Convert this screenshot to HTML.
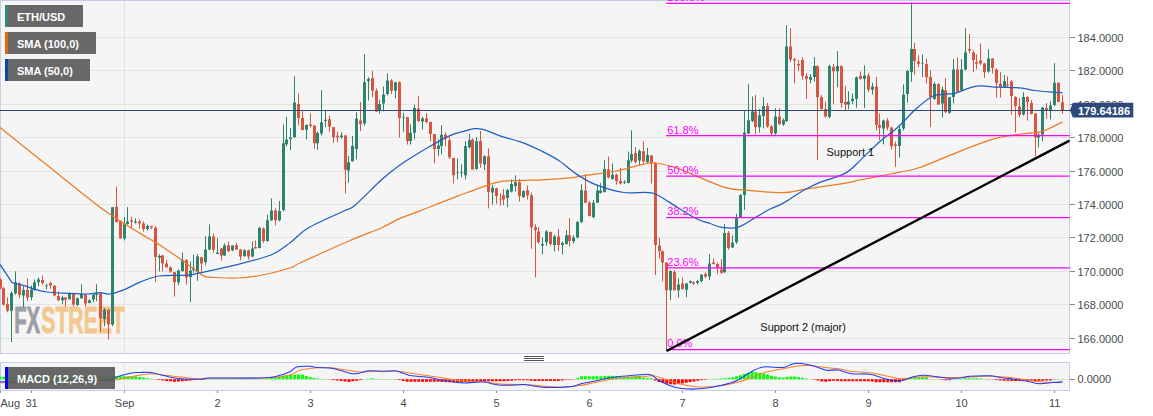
<!DOCTYPE html>
<html><head><meta charset="utf-8"><title>ETH/USD chart</title>
<style>html,body{margin:0;padding:0;background:#fff;}body{width:1153px;height:416px;overflow:hidden;}svg{display:block;}</style></head>
<body>
<svg width="1153" height="416" viewBox="0 0 1153 416" font-family="Liberation Sans, Arial, sans-serif">
<rect x="0" y="0" width="1153" height="416" fill="#fff"/>
<rect x="0.5" y="0.5" width="1069" height="353" fill="#f5f5f5" stroke="#c6cde6" stroke-width="1"/>
<rect x="0.5" y="362.5" width="1069" height="28" fill="#f5f5f5" stroke="#c6cde6" stroke-width="1"/>
<path d="M1 37.5H1069M1 70.5H1069M1 104.5H1069M1 137.5H1069M1 171.5H1069M1 204.5H1069M1 237.5H1069M1 271.5H1069M1 304.5H1069M1 338.5H1069M124.5 1V353M124.5 363V390M1 379.5H1069" stroke="#e3e3e3" stroke-width="1" fill="none" shape-rendering="crispEdges"/>
<g font-weight="bold" font-size="36" stroke-width="0.9" stroke-linejoin="round"><text x="14.2" y="333" textLength="26" lengthAdjust="spacingAndGlyphs" fill="#9d9ea6" stroke="#9d9ea6">FX</text><text x="41.3" y="333" textLength="83.5" lengthAdjust="spacingAndGlyphs" fill="#f3c78e" stroke="#f3c78e">STREET</text></g>
<path d="M11.5 291.4V342.0M15.5 271.4V294.5M23.5 286.2V307.3M31.5 285.4V300.3M34.5 279.5V290.9M38.5 277.3V286.2M46.5 283.6V289.3M62.5 295.6V304.2M69.5 292.5V299.5M77.5 297.6V305.8M81.5 284.2V298.7M89.5 299.2V303.4M93.5 294.0V302.3M96.5 284.2V301.1M104.5 308.1V326.1M112.5 207.2V326.1M124.5 217.1V240.4M127.5 207.2V224.6M135.5 218.4V223.5M147.5 224.6V230.6M159.5 254.1V271.5M178.5 269.6V285.4M182.5 252.6V271.9M190.5 261.6V302.0M193.5 255.0V272.8M197.5 254.1V280.9M205.5 236.3V265.3M209.5 224.4V250.3M217.5 238.1V254.1M224.5 243.4V255.9M232.5 245.3V251.3M244.5 249.4V256.9M252.5 241.5V257.3M259.5 226.9V248.4M267.5 214.7V241.5M271.5 198.4V220.9M279.5 201.0V221.3M283.5 124.5V211.5M286.5 117.0V146.1M290.5 127.9V150.0M294.5 76.1V137.6M306.5 124.5V139.5M317.5 131.6V150.0M321.5 90.2V135.4M325.5 110.4V127.3M341.5 132.4V138.6M348.5 156.0V182.8M352.5 135.8V161.6M356.5 112.3V159.4M364.5 54.1V125.4M368.5 77.3V100.5M379.5 99.8V113.6M383.5 86.6V111.4M387.5 73.5V95.4M395.5 81.8V98.3M403.5 112.8V131.9M410.5 124.4V144.6M414.5 104.7V139.4M422.5 116.5V129.6M438.5 139.4V155.9M441.5 125.3V154.4M457.5 158.4V179.4M461.5 164.4V177.5M465.5 140.9V179.4M469.5 134.1V148.8M476.5 137.1V169.6M484.5 155.3V170.0M492.5 185.0V204.7M507.5 189.1V207.1M511.5 179.4V192.5M515.5 175.3V191.6M523.5 190.3V197.8M542.5 237.5V254.4M546.5 230.0V245.9M554.5 234.7V251.6M562.5 241.6V254.4M566.5 230.0V244.6M573.5 235.3V243.5M577.5 221.0V238.4M581.5 184.1V222.9M593.5 200.0V218.4M597.5 184.6V202.8M600.5 183.1V193.4M604.5 160.3V192.5M612.5 163.4V179.8M624.5 180.3V184.1M628.5 151.6V183.5M631.5 130.3V162.5M639.5 149.4V165.3M647.5 147.9V163.4M670.5 270.0V300.0M678.5 278.4V297.8M686.5 282.8V297.2M690.5 280.3V283.5M697.5 279.8V284.6M701.5 274.1V282.2M709.5 254.1V280.3M724.5 224.1V272.8M732.5 235.3V247.9M736.5 213.8V243.8M740.5 194.1V217.5M744.5 110.9V210.0M748.5 84.1V134.4M752.5 96.5V122.2M759.5 109.1V132.5M763.5 97.3V128.4M775.5 108.1V134.8M783.5 118.4V125.9M786.5 25.3V122.2M810.5 74.1V83.4M814.5 57.2V81.6M829.5 64.7V118.4M837.5 51.0V87.2M848.5 91.3V109.1M852.5 93.5V104.0M856.5 76.5V107.8M864.5 65.3V108.1M872.5 82.8V94.6M883.5 119.6V144.4M899.5 124.7V157.5M903.5 84.4V130.3M907.5 69.8V102.8M911.5 2.3V81.9M922.5 54.4V76.9M934.5 82.3V99.7M942.5 86.6V117.5M949.5 96.9V113.8M953.5 59.1V103.4M961.5 59.1V91.6M965.5 28.1V70.3M988.5 49.1V72.8M1004.5 75.0V88.1M1023.5 92.2V115.6M1038.5 132.5V147.5M1042.5 106.9V141.2M1050.5 101.2V119.4M1054.5 63.1V106.2" stroke="#2c846e" stroke-width="1" fill="none"/>
<path d="M0.5 278.4V288.9M3.5 287.0V305.8M7.5 297.6V312.3M19.5 282.3V298.2M27.5 278.4V301.1M42.5 275.3V284.7M50.5 281.5V288.9M54.5 285.1V296.4M58.5 291.4V301.1M65.5 297.2V306.5M73.5 292.9V306.5M85.5 294.0V306.5M100.5 292.5V332.0M108.5 308.9V339.5M116.5 186.6V222.2M120.5 220.3V238.5M131.5 216.6V227.8M139.5 219.4V228.4M143.5 221.6V231.6M151.5 225.9V229.1M155.5 225.9V282.2M162.5 255.0V271.5M166.5 260.3V267.8M170.5 266.6V272.8M174.5 271.9V296.6M186.5 259.3V284.6M201.5 256.9V271.5M213.5 233.4V252.8M221.5 248.1V260.6M228.5 241.5V252.2M236.5 242.8V249.8M240.5 249.0V260.3M248.5 249.4V259.7M255.5 240.4V248.4M263.5 227.3V242.8M275.5 208.5V225.4M298.5 93.6V125.4M302.5 110.4V130.5M310.5 113.3V127.3M314.5 125.1V148.9M329.5 115.5V131.6M333.5 126.9V142.9M337.5 131.6V142.3M345.5 134.8V193.5M360.5 102.0V131.1M372.5 70.9V97.3M376.5 88.5V111.8M391.5 79.1V94.1M399.5 81.4V137.6M407.5 116.9V144.6M418.5 96.3V122.1M426.5 113.1V123.4M430.5 121.6V141.3M434.5 133.8V163.4M445.5 132.3V146.5M449.5 136.6V159.1M453.5 157.8V183.5M472.5 138.4V169.6M480.5 130.9V167.8M488.5 148.4V208.4M496.5 187.8V203.8M500.5 193.4V205.6M503.5 189.1V205.3M519.5 179.0V201.5M527.5 185.4V199.6M531.5 192.5V248.8M535.5 224.4V277.3M538.5 227.2V243.5M550.5 231.5V245.9M558.5 229.1V251.0M569.5 218.2V246.5M585.5 174.1V202.8M589.5 200.9V216.5M608.5 156.5V178.4M616.5 173.8V184.6M620.5 167.8V184.6M635.5 147.1V163.4M643.5 141.5V163.4M651.5 155.0V183.5M655.5 162.5V275.0M659.5 237.8V258.8M662.5 250.3V281.3M666.5 262.1V351.0M674.5 270.0V290.6M682.5 277.5V289.7M693.5 281.3V285.0M705.5 272.3V278.4M713.5 258.4V264.4M717.5 262.5V274.1M721.5 259.1V273.8M728.5 231.0V249.8M755.5 95.0V134.4M767.5 102.9V127.8M771.5 125.0V136.3M779.5 108.1V125.0M790.5 28.1V61.9M794.5 58.1V83.4M798.5 60.0V71.3M802.5 57.2V79.7M806.5 73.1V98.8M817.5 65.3V160.3M821.5 95.0V109.6M825.5 101.6V117.5M833.5 64.1V104.4M841.5 65.3V107.8M845.5 85.9V110.0M860.5 71.3V79.7M868.5 73.1V92.2M876.5 76.9V130.3M879.5 113.4V140.3M887.5 117.8V130.3M891.5 126.6V149.6M895.5 141.6V166.9M914.5 42.8V75.0M918.5 55.3V67.1M926.5 58.5V83.4M930.5 70.3V126.9M938.5 83.4V104.8M945.5 78.1V113.4M957.5 57.2V92.2M969.5 34.1V53.4M973.5 50.3V72.2M976.5 54.4V69.4M980.5 43.5V65.3M984.5 62.8V78.0M992.5 58.1V73.5M996.5 68.4V97.5M1000.5 72.2V97.5M1007.5 76.2V88.1M1011.5 80.0V114.8M1015.5 96.2V132.5M1019.5 98.1V117.5M1027.5 96.2V120.6M1031.5 100.2V114.4M1035.5 113.1V156.0M1046.5 103.1V118.8M1058.5 82.2V102.2M1062.5 95.0V113.8" stroke="#d8553f" stroke-width="1" fill="none"/>
<path d="M10 292.9h3V310.8h-3zM14 282.3h3V293.2h-3zM22 290.1h3V295.6h-3zM30 289.8h3V297.2h-3zM33 282.3h3V289.8h-3zM37 279.5h3V282.3h-3zM45 285.4h3V286.2h-3zM61 297.6h3V300.3h-3zM68 293.2h3V299.2h-3zM76 298.2h3V305.0h-3zM80 294.0h3V298.2h-3zM88 300.3h3V302.9h-3zM92 294.8h3V299.5h-3zM95 293.2h3V295.1h-3zM103 309.7h3V319.0h-3zM111 207.2h3V324.5h-3zM123 224.1h3V238.5h-3zM126 221.6h3V224.1h-3zM134 221.6h3V222.8h-3zM146 225.9h3V229.1h-3zM158 255.9h3V257.8h-3zM177 270.6h3V282.2h-3zM181 260.3h3V270.9h-3zM189 270.6h3V277.1h-3zM192 268.5h3V270.0h-3zM196 256.5h3V271.9h-3zM204 249.4h3V262.1h-3zM208 236.3h3V249.4h-3zM216 252.8h3V254.1h-3zM223 245.6h3V255.4h-3zM231 245.6h3V250.3h-3zM243 250.3h3V255.9h-3zM251 248.4h3V256.5h-3zM258 227.8h3V247.9h-3zM266 220.3h3V240.9h-3zM270 210.4h3V220.3h-3zM278 210.9h3V220.3h-3zM282 143.3h3V210.0h-3zM285 139.5h3V144.2h-3zM289 137.6h3V139.1h-3zM293 102.6h3V137.3h-3zM305 124.9h3V129.8h-3zM316 132.9h3V143.3h-3zM320 122.3h3V133.5h-3zM324 119.8h3V121.1h-3zM340 135.4h3V137.3h-3zM347 162.2h3V170.6h-3zM351 146.1h3V161.3h-3zM355 118.5h3V148.9h-3zM363 82.3h3V123.6h-3zM367 79.1h3V81.0h-3zM378 103.9h3V111.0h-3zM382 94.5h3V103.5h-3zM386 80.4h3V94.1h-3zM394 82.3h3V90.8h-3zM402 117.6h3V118.2h-3zM409 132.8h3V140.9h-3zM413 107.9h3V132.8h-3zM421 118.4h3V121.6h-3zM437 145.4h3V149.1h-3zM440 134.7h3V145.9h-3zM456 172.2h3V172.8h-3zM460 172.6h3V173.2h-3zM464 145.9h3V175.3h-3zM468 140.3h3V147.3h-3zM475 141.3h3V169.1h-3zM483 156.3h3V164.4h-3zM491 187.8h3V192.5h-3zM506 190.1h3V198.1h-3zM510 184.1h3V191.6h-3zM514 182.2h3V185.9h-3zM522 191.0h3V197.2h-3zM541 244.1h3V245.4h-3zM545 231.5h3V242.2h-3zM553 236.6h3V245.0h-3zM561 243.1h3V245.0h-3zM565 235.3h3V244.1h-3zM572 237.5h3V241.3h-3zM576 222.1h3V237.5h-3zM580 190.3h3V222.1h-3zM592 202.8h3V216.9h-3zM596 190.6h3V202.8h-3zM599 190.6h3V192.9h-3zM603 169.1h3V192.1h-3zM611 174.7h3V179.0h-3zM623 181.8h3V182.8h-3zM627 160.3h3V183.1h-3zM630 154.1h3V160.6h-3zM638 150.9h3V160.6h-3zM646 155.0h3V162.1h-3zM669 270.9h3V290.3h-3zM677 284.6h3V290.3h-3zM685 283.5h3V289.7h-3zM689 281.3h3V282.8h-3zM696 280.9h3V282.8h-3zM700 274.7h3V281.3h-3zM708 263.4h3V276.6h-3zM723 232.9h3V272.3h-3zM731 242.8h3V247.5h-3zM735 217.5h3V242.3h-3zM739 195.0h3V217.1h-3zM743 132.5h3V195.0h-3zM747 120.3h3V133.4h-3zM751 111.5h3V120.9h-3zM758 115.3h3V127.3h-3zM762 106.3h3V116.0h-3zM774 116.6h3V133.4h-3zM782 120.3h3V124.6h-3zM785 46.5h3V120.9h-3zM809 76.9h3V79.7h-3zM813 66.0h3V76.9h-3zM828 66.0h3V117.1h-3zM836 66.0h3V71.3h-3zM847 101.6h3V104.4h-3zM851 98.8h3V101.0h-3zM855 77.3h3V98.8h-3zM863 75.4h3V79.1h-3zM871 86.6h3V89.8h-3zM882 120.4h3V128.4h-3zM898 129.0h3V145.9h-3zM902 94.7h3V128.4h-3zM906 70.9h3V94.1h-3zM910 49.1h3V72.2h-3zM921 63.4h3V64.1h-3zM933 84.1h3V99.1h-3zM941 89.4h3V103.4h-3zM948 97.3h3V112.8h-3zM952 69.4h3V96.9h-3zM960 69.4h3V90.3h-3zM964 52.5h3V69.4h-3zM987 58.5h3V71.6h-3zM1003 81.2h3V87.2h-3zM1022 96.9h3V114.4h-3zM1037 134.8h3V137.5h-3zM1041 107.5h3V134.4h-3zM1049 105.6h3V110.6h-3zM1053 82.8h3V105.0h-3z" fill="#2c846e"/>
<path d="M-1 279.5h3V288.6h-3zM2 288.2h3V304.5h-3zM6 303.9h3V310.8h-3zM18 283.6h3V295.1h-3zM26 290.1h3V297.6h-3zM41 280.0h3V283.1h-3zM49 283.1h3V285.4h-3zM53 285.8h3V295.6h-3zM57 296.1h3V300.3h-3zM64 297.6h3V299.8h-3zM72 293.2h3V304.5h-3zM84 294.5h3V303.4h-3zM99 293.2h3V318.2h-3zM107 309.7h3V324.5h-3zM115 206.8h3V222.2h-3zM119 221.3h3V238.5h-3zM130 220.3h3V221.6h-3zM138 221.6h3V223.5h-3zM142 223.5h3V229.1h-3zM150 225.9h3V227.3h-3zM154 227.8h3V256.9h-3zM161 255.6h3V263.4h-3zM165 263.4h3V267.2h-3zM169 267.2h3V271.5h-3zM173 272.3h3V282.2h-3zM185 260.1h3V277.5h-3zM200 257.3h3V263.4h-3zM212 236.6h3V249.8h-3zM220 248.4h3V255.4h-3zM227 245.3h3V251.3h-3zM235 245.3h3V249.4h-3zM239 249.4h3V256.5h-3zM247 250.3h3V256.5h-3zM254 247.1h3V248.4h-3zM262 228.4h3V240.9h-3zM274 210.4h3V220.3h-3zM297 103.9h3V117.9h-3zM301 117.9h3V130.1h-3zM309 124.5h3V126.0h-3zM313 125.4h3V143.3h-3zM328 119.3h3V126.4h-3zM332 127.3h3V137.3h-3zM336 135.8h3V137.3h-3zM344 135.4h3V169.7h-3zM359 120.4h3V124.1h-3zM371 78.0h3V90.8h-3zM375 90.8h3V111.4h-3zM390 80.4h3V90.8h-3zM398 82.3h3V117.9h-3zM406 117.3h3V140.9h-3zM417 108.4h3V121.0h-3zM425 118.4h3V122.1h-3zM429 122.1h3V134.1h-3zM433 134.1h3V149.1h-3zM444 134.7h3V138.4h-3zM448 140.3h3V157.2h-3zM452 158.1h3V175.3h-3zM471 139.4h3V169.6h-3zM479 140.9h3V163.4h-3zM487 156.3h3V192.1h-3zM495 188.2h3V195.9h-3zM499 199.0h3V199.6h-3zM502 195.3h3V199.6h-3zM518 182.2h3V196.3h-3zM526 190.3h3V195.3h-3zM530 195.3h3V227.2h-3zM534 227.2h3V230.0h-3zM537 231.5h3V242.2h-3zM549 231.9h3V244.1h-3zM557 236.6h3V245.0h-3zM568 235.3h3V240.9h-3zM584 190.6h3V202.8h-3zM588 202.8h3V215.9h-3zM607 169.4h3V177.5h-3zM615 174.7h3V181.3h-3zM619 180.9h3V183.5h-3zM634 153.1h3V162.1h-3zM642 151.3h3V161.6h-3zM650 155.4h3V163.4h-3zM654 162.9h3V245.0h-3zM658 245.6h3V251.3h-3zM661 251.3h3V262.5h-3zM665 262.5h3V290.3h-3zM673 271.9h3V290.3h-3zM681 283.5h3V289.1h-3zM692 282.2h3V283.5h-3zM704 274.1h3V276.6h-3zM712 262.5h3V264.0h-3zM716 264.0h3V267.8h-3zM720 269.6h3V272.8h-3zM727 232.9h3V247.9h-3zM754 111.5h3V126.9h-3zM766 105.9h3V126.5h-3zM770 126.5h3V133.4h-3zM778 116.6h3V124.1h-3zM789 46.5h3V59.6h-3zM793 59.1h3V60.4h-3zM797 64.1h3V65.6h-3zM801 60.0h3V75.9h-3zM805 75.9h3V78.8h-3zM816 66.0h3V97.3h-3zM820 97.3h3V109.1h-3zM824 109.1h3V116.6h-3zM832 67.1h3V71.3h-3zM840 66.0h3V102.9h-3zM844 102.1h3V104.4h-3zM859 75.9h3V79.1h-3zM867 75.4h3V89.8h-3zM875 86.6h3V125.0h-3zM878 125.0h3V127.8h-3zM886 120.4h3V127.5h-3zM890 127.5h3V146.3h-3zM894 144.4h3V145.9h-3zM913 49.1h3V60.9h-3zM917 61.5h3V63.8h-3zM925 64.1h3V77.2h-3zM929 76.9h3V96.9h-3zM937 84.1h3V104.4h-3zM944 90.3h3V111.9h-3zM956 69.4h3V91.6h-3zM968 49.1h3V50.6h-3zM972 52.5h3V60.0h-3zM975 61.9h3V63.8h-3zM979 60.4h3V63.4h-3zM983 63.4h3V72.2h-3zM991 58.5h3V67.9h-3zM995 69.4h3V83.1h-3zM999 83.8h3V86.9h-3zM1006 84.4h3V85.6h-3zM1010 81.2h3V96.0h-3zM1014 96.9h3V106.0h-3zM1018 106.5h3V115.0h-3zM1026 96.9h3V101.9h-3zM1030 103.1h3V114.0h-3zM1034 113.5h3V137.5h-3zM1045 108.1h3V110.0h-3zM1057 82.8h3V101.9h-3zM1061 102.2h3V110.2h-3z" fill="#d8553f"/>
<path d="M0 110.5H1070" stroke="#2d4a7a" stroke-width="1.2" fill="none"/>
<path d="M0.0 127.5C8.3 134.2 33.3 154.2 50.0 167.5C66.7 180.8 85.0 196.2 100.0 207.2C115.0 218.2 130.6 227.5 140.0 233.4C149.4 239.3 149.8 238.7 156.2 242.8C162.7 246.9 172.1 253.4 178.8 258.0C185.4 262.6 191.7 267.4 196.0 270.5C200.3 273.6 201.5 275.1 204.7 276.3C207.9 277.5 209.5 277.2 215.0 277.5C220.5 277.8 230.0 278.3 237.5 278.0C245.0 277.7 251.2 277.2 260.0 275.5C268.8 273.8 283.3 270.1 290.0 268.0C296.7 265.9 290.0 267.6 300.0 263.0C310.0 258.4 336.5 246.3 350.0 240.5C363.5 234.7 372.9 231.7 381.2 228.0C389.6 224.3 393.5 221.2 400.0 218.4C406.5 215.6 410.4 214.6 420.0 210.9C429.6 207.2 445.0 200.9 457.5 196.2C470.0 191.6 485.6 185.3 495.0 182.8C504.4 180.2 505.9 181.2 513.8 180.7C521.6 180.2 532.5 180.2 541.9 179.8C551.3 179.3 562.9 178.6 570.0 177.9C577.1 177.2 576.7 176.8 584.4 175.6C592.1 174.4 607.2 172.7 616.2 171.0C625.3 169.3 632.5 166.6 638.8 165.3C645.0 164.0 648.1 162.8 653.8 163.0C659.4 163.2 666.2 164.8 672.5 166.6C678.8 168.4 685.0 171.2 691.2 173.8C697.5 176.3 703.8 179.4 710.0 181.8C716.2 184.2 722.5 187.0 728.8 188.4C735.0 189.8 738.5 189.6 747.5 190.3C756.5 191.0 773.6 192.8 783.0 192.6C792.4 192.4 794.0 190.9 803.8 189.4C813.5 187.9 831.9 185.3 841.2 183.8C850.6 182.2 851.9 181.6 860.0 180.0C868.1 178.4 880.3 176.0 890.0 174.0C899.7 172.0 907.4 171.4 918.0 168.0C928.6 164.6 941.5 158.5 953.8 153.8C966.0 149.0 981.0 142.9 991.2 139.7C1001.5 136.5 1006.9 136.1 1015.0 134.8C1023.1 133.4 1033.8 133.2 1040.0 131.9C1046.2 130.6 1048.8 128.6 1052.5 126.9C1056.2 125.2 1060.8 122.7 1062.5 121.9" stroke="#ee7a22" stroke-width="1.25" fill="none"/>
<path d="M0.0 264.3C0.8 265.6 3.2 269.2 5.0 271.9C6.8 274.6 9.3 278.6 10.5 280.3C11.7 282.0 11.3 281.8 11.9 282.3C12.5 282.8 11.8 282.6 14.0 283.2C16.2 283.8 21.5 284.8 25.0 285.8C28.5 286.8 31.4 288.4 35.0 289.4C38.6 290.4 42.3 291.4 46.9 292.0C51.5 292.6 56.0 292.9 62.5 293.2C69.0 293.6 79.8 294.1 86.0 294.0C92.2 293.9 96.1 292.5 100.0 292.5C103.9 292.5 105.2 294.5 109.4 294.0C113.6 293.5 119.9 291.3 125.0 289.3C130.1 287.3 134.4 284.4 140.0 282.2C145.6 280.0 150.9 277.2 158.8 276.0C166.6 274.8 180.1 275.8 187.0 275.2C193.9 274.7 192.2 274.5 200.0 272.8C207.8 271.1 221.9 268.3 233.8 265.3C245.6 262.3 261.6 258.8 271.0 255.0C280.4 251.2 283.8 247.3 290.0 242.8C296.2 238.3 299.1 233.3 308.1 228.0C317.1 222.7 335.9 214.8 343.8 211.0C351.6 207.2 348.8 210.5 355.0 205.3C361.2 200.1 373.8 186.7 381.2 180.0C388.8 173.3 392.3 170.4 400.0 165.0C407.7 159.6 419.2 152.7 427.5 147.8C435.8 142.9 443.8 138.4 450.0 135.6C456.2 132.8 460.9 132.1 465.0 130.9C469.1 129.8 471.3 128.9 474.4 128.7C477.5 128.5 479.1 128.3 483.8 129.6C488.4 130.9 496.2 134.5 502.5 136.6C508.8 138.7 514.7 139.8 521.2 142.2C527.8 144.6 535.6 148.2 541.9 151.2C548.1 154.3 552.6 156.5 558.8 160.6C564.9 164.7 572.3 171.5 578.8 175.6C585.2 179.7 590.0 182.6 597.5 185.4C605.0 188.2 614.7 191.2 623.8 192.5C632.8 193.8 644.4 191.3 651.9 192.9C659.4 194.5 661.6 197.7 668.8 201.9C675.9 206.1 688.1 214.4 695.0 218.0C701.9 221.6 705.6 222.0 710.0 223.5C714.4 225.0 716.6 226.6 721.2 227.2C725.9 227.9 732.1 229.0 738.0 227.2C743.9 225.5 751.6 219.6 756.9 216.6C762.2 213.6 765.6 211.2 770.0 209.0C774.4 206.8 777.4 206.5 783.0 203.4C788.6 200.3 797.8 193.7 803.8 190.3C809.7 186.9 811.9 185.6 818.8 182.8C825.6 180.0 838.1 177.1 845.0 173.4C851.9 169.7 854.4 165.8 860.0 160.6C865.6 155.4 872.5 148.0 878.8 142.5C885.0 137.0 891.2 133.1 897.5 127.5C903.8 121.9 910.3 114.0 916.2 108.8C922.2 103.5 928.0 98.4 933.0 96.0C938.0 93.6 942.4 94.6 946.2 94.1C950.1 93.6 951.1 94.1 956.2 92.8C961.4 91.4 970.0 87.1 976.9 86.2C983.8 85.3 990.3 86.8 997.5 87.1C1004.7 87.4 1013.8 87.3 1020.0 87.9C1026.2 88.5 1029.6 89.8 1035.0 90.5C1040.4 91.2 1047.9 91.9 1052.5 92.2C1057.1 92.6 1060.8 92.7 1062.5 92.8" stroke="#1f5fc0" stroke-width="1.25" fill="none"/>
<path d="M666.2 3.3H1069.5" stroke="#ff00ff" stroke-width="1.25" fill="none"/>
<text x="667.3" y="1.2" font-size="11" fill="#ff00ff">100.0%</text>
<path d="M666.2 135.5H1069.5" stroke="#ff00ff" stroke-width="1.25" fill="none"/>
<text x="667.3" y="134.2" font-size="11" fill="#ff00ff">61.8%</text>
<path d="M666.2 176.0H1069.5" stroke="#ff00ff" stroke-width="1.25" fill="none"/>
<text x="667.3" y="174.0" font-size="11" fill="#ff00ff">50.0%</text>
<path d="M666.2 217.5H1069.5" stroke="#ff00ff" stroke-width="1.25" fill="none"/>
<text x="667.3" y="215.3" font-size="11" fill="#ff00ff">38.2%</text>
<path d="M666.2 267.8H1069.5" stroke="#ff00ff" stroke-width="1.25" fill="none"/>
<text x="667.3" y="265.7" font-size="11" fill="#ff00ff">23.6%</text>
<path d="M666.2 349.5H1069.5" stroke="#ff00ff" stroke-width="1.25" fill="none"/>
<text x="667.3" y="346.8" font-size="11" fill="#ff00ff">0.0%</text>
<path d="M666.5 351L1069.5 140.6" stroke="#000" stroke-width="2.4" fill="none"/>
<text x="826.5" y="156" font-size="11" fill="#111">Support 1</text>
<text x="760.3" y="331.3" font-size="11" fill="#111">Support 2 (major)</text>
<path d="M-1.42 379.3h3V376.8h-3zM2.45 379.3h3V376.8h-3zM6.33 379.3h3V376.8h-3zM10.21 379.3h3V376.8h-3zM14.08 379.3h3V376.8h-3zM17.96 379.3h3V376.8h-3zM21.84 379.3h3V376.8h-3zM25.71 379.3h3V376.8h-3zM29.59 379.3h3V376.8h-3zM33.47 379.3h3V376.8h-3zM37.34 379.3h3V376.8h-3zM41.22 379.3h3V376.8h-3zM45.09 379.3h3V376.8h-3zM48.97 379.3h3V376.8h-3zM52.85 379.3h3V376.8h-3zM56.72 379.3h3V376.8h-3zM60.60 379.3h3V376.8h-3zM64.48 379.3h3V376.7h-3zM68.35 379.3h3V376.7h-3zM72.23 379.3h3V376.7h-3zM76.10 379.3h3V376.6h-3zM79.98 379.3h3V376.6h-3zM83.86 379.3h3V376.6h-3zM87.73 379.3h3V376.5h-3zM91.61 379.3h3V376.5h-3zM95.49 379.3h3V376.5h-3zM99.36 379.3h3V376.4h-3zM103.24 379.3h3V376.4h-3zM107.11 379.3h3V376.4h-3zM110.99 379.3h3V376.3h-3zM114.87 379.3h3V376.3h-3zM118.74 379.3h3V376.3h-3zM122.62 379.3h3V376.3h-3zM126.50 379.3h3V376.3h-3zM130.37 379.3h3V376.3h-3zM134.25 379.3h3V376.4h-3zM138.13 379.3h3V377.0h-3zM142.00 379.3h3V377.6h-3zM145.88 379.3h3V378.2h-3zM149.75 379.3h3V378.7h-3zM204.02 379.3h3V379.0h-3zM207.90 379.3h3V379.0h-3zM211.77 379.3h3V379.0h-3zM215.65 379.3h3V379.0h-3zM219.53 379.3h3V379.0h-3zM223.40 379.3h3V379.0h-3zM227.28 379.3h3V379.0h-3zM231.16 379.3h3V379.0h-3zM235.03 379.3h3V379.0h-3zM238.91 379.3h3V379.0h-3zM242.79 379.3h3V379.0h-3zM246.66 379.3h3V379.0h-3zM250.54 379.3h3V379.0h-3zM254.41 379.3h3V379.0h-3zM258.29 379.3h3V379.0h-3zM262.17 379.3h3V378.9h-3zM266.04 379.3h3V378.5h-3zM269.92 379.3h3V377.9h-3zM273.80 379.3h3V377.3h-3zM277.67 379.3h3V376.6h-3zM281.55 379.3h3V376.0h-3zM285.42 379.3h3V375.3h-3zM289.30 379.3h3V374.7h-3zM293.18 379.3h3V374.7h-3zM297.05 379.3h3V374.6h-3zM300.93 379.3h3V374.6h-3zM304.81 379.3h3V376.0h-3zM308.68 379.3h3V377.0h-3zM312.56 379.3h3V377.9h-3zM316.44 379.3h3V378.4h-3zM320.31 379.3h3V378.9h-3zM324.19 379.3h3V379.0h-3zM362.95 379.3h3V379.0h-3zM366.83 379.3h3V378.7h-3zM370.70 379.3h3V378.3h-3zM374.58 379.3h3V378.9h-3zM378.46 379.3h3V379.0h-3zM382.33 379.3h3V379.0h-3zM386.21 379.3h3V379.0h-3zM390.08 379.3h3V379.0h-3zM576.15 379.3h3V378.0h-3zM580.02 379.3h3V376.3h-3zM583.90 379.3h3V376.3h-3zM587.78 379.3h3V376.3h-3zM591.65 379.3h3V376.3h-3zM595.53 379.3h3V376.3h-3zM599.40 379.3h3V376.3h-3zM603.28 379.3h3V376.0h-3zM607.16 379.3h3V375.8h-3zM611.03 379.3h3V375.8h-3zM614.91 379.3h3V376.1h-3zM618.79 379.3h3V376.8h-3zM622.66 379.3h3V376.8h-3zM626.54 379.3h3V376.8h-3zM630.42 379.3h3V376.8h-3zM634.29 379.3h3V376.8h-3zM638.17 379.3h3V377.1h-3zM642.04 379.3h3V377.6h-3zM645.92 379.3h3V378.0h-3zM649.80 379.3h3V378.2h-3zM707.94 379.3h3V379.0h-3zM711.82 379.3h3V378.8h-3zM715.69 379.3h3V378.7h-3zM719.57 379.3h3V378.5h-3zM723.45 379.3h3V378.3h-3zM727.32 379.3h3V377.8h-3zM731.20 379.3h3V377.3h-3zM735.08 379.3h3V376.3h-3zM738.95 379.3h3V375.2h-3zM742.83 379.3h3V374.0h-3zM746.70 379.3h3V372.9h-3zM750.58 379.3h3V372.0h-3zM754.46 379.3h3V372.2h-3zM758.33 379.3h3V372.8h-3zM762.21 379.3h3V373.6h-3zM766.09 379.3h3V374.6h-3zM769.96 379.3h3V375.8h-3zM773.84 379.3h3V376.5h-3zM777.71 379.3h3V377.2h-3zM781.59 379.3h3V377.8h-3zM785.47 379.3h3V376.8h-3zM789.34 379.3h3V376.5h-3zM793.22 379.3h3V376.5h-3zM797.10 379.3h3V376.9h-3zM800.97 379.3h3V377.7h-3zM804.85 379.3h3V378.5h-3zM808.73 379.3h3V379.0h-3zM905.63 379.3h3V378.0h-3zM909.51 379.3h3V377.3h-3zM913.39 379.3h3V377.3h-3zM917.26 379.3h3V377.3h-3zM921.14 379.3h3V377.3h-3zM925.01 379.3h3V377.3h-3zM928.89 379.3h3V379.0h-3zM932.77 379.3h3V379.0h-3zM936.64 379.3h3V379.0h-3zM952.15 379.3h3V379.0h-3zM956.02 379.3h3V379.0h-3zM959.90 379.3h3V379.0h-3zM963.78 379.3h3V378.3h-3zM967.65 379.3h3V378.3h-3zM971.53 379.3h3V378.3h-3zM975.41 379.3h3V378.3h-3zM979.28 379.3h3V378.5h-3zM983.16 379.3h3V379.0h-3zM1056.81 379.3h3V379.0h-3zM1060.68 379.3h3V379.0h-3z" fill="#00ff00"/>
<path d="M153.63 379.3h3V379.6h-3zM157.51 379.3h3V379.9h-3zM161.38 379.3h3V380.4h-3zM165.26 379.3h3V380.9h-3zM169.14 379.3h3V381.3h-3zM173.01 379.3h3V381.7h-3zM176.89 379.3h3V381.6h-3zM180.76 379.3h3V381.3h-3zM184.64 379.3h3V381.0h-3zM188.52 379.3h3V380.6h-3zM192.39 379.3h3V380.1h-3zM196.27 379.3h3V379.6h-3zM200.15 379.3h3V379.6h-3zM328.06 379.3h3V379.6h-3zM331.94 379.3h3V380.0h-3zM335.82 379.3h3V380.5h-3zM339.69 379.3h3V381.0h-3zM343.57 379.3h3V381.5h-3zM347.45 379.3h3V381.9h-3zM351.32 379.3h3V381.3h-3zM355.20 379.3h3V380.7h-3zM359.07 379.3h3V380.0h-3zM393.96 379.3h3V379.6h-3zM397.84 379.3h3V380.1h-3zM401.71 379.3h3V381.1h-3zM405.59 379.3h3V381.8h-3zM409.47 379.3h3V381.8h-3zM413.34 379.3h3V381.8h-3zM417.22 379.3h3V381.8h-3zM421.10 379.3h3V381.8h-3zM424.97 379.3h3V381.8h-3zM428.85 379.3h3V381.8h-3zM432.72 379.3h3V381.8h-3zM436.60 379.3h3V381.8h-3zM440.48 379.3h3V381.9h-3zM444.35 379.3h3V382.0h-3zM448.23 379.3h3V382.2h-3zM452.11 379.3h3V382.3h-3zM455.98 379.3h3V382.3h-3zM459.86 379.3h3V382.3h-3zM463.73 379.3h3V382.1h-3zM467.61 379.3h3V381.7h-3zM471.49 379.3h3V381.3h-3zM475.36 379.3h3V381.5h-3zM479.24 379.3h3V381.0h-3zM483.12 379.3h3V381.0h-3zM486.99 379.3h3V381.2h-3zM490.87 379.3h3V381.3h-3zM494.74 379.3h3V381.2h-3zM498.62 379.3h3V381.2h-3zM502.50 379.3h3V381.2h-3zM506.37 379.3h3V381.1h-3zM510.25 379.3h3V380.8h-3zM514.13 379.3h3V380.3h-3zM518.00 379.3h3V380.3h-3zM521.88 379.3h3V380.3h-3zM525.76 379.3h3V380.3h-3zM529.63 379.3h3V380.8h-3zM533.51 379.3h3V380.9h-3zM537.38 379.3h3V380.9h-3zM541.26 379.3h3V381.0h-3zM545.14 379.3h3V381.0h-3zM549.01 379.3h3V381.0h-3zM552.89 379.3h3V381.1h-3zM556.77 379.3h3V381.1h-3zM560.64 379.3h3V380.5h-3zM564.52 379.3h3V379.8h-3zM568.39 379.3h3V379.7h-3zM572.27 379.3h3V379.6h-3zM653.67 379.3h3V380.5h-3zM657.55 379.3h3V382.0h-3zM661.43 379.3h3V383.0h-3zM665.30 379.3h3V383.8h-3zM669.18 379.3h3V384.2h-3zM673.05 379.3h3V384.5h-3zM676.93 379.3h3V384.0h-3zM680.81 379.3h3V383.4h-3zM684.68 379.3h3V382.7h-3zM688.56 379.3h3V382.1h-3zM692.44 379.3h3V381.4h-3zM696.31 379.3h3V380.7h-3zM700.19 379.3h3V380.1h-3zM704.07 379.3h3V379.7h-3zM812.60 379.3h3V379.7h-3zM816.48 379.3h3V380.5h-3zM820.35 379.3h3V381.5h-3zM824.23 379.3h3V381.8h-3zM828.11 379.3h3V381.3h-3zM831.98 379.3h3V380.8h-3zM835.86 379.3h3V381.0h-3zM839.74 379.3h3V381.3h-3zM843.61 379.3h3V381.3h-3zM847.49 379.3h3V381.3h-3zM851.36 379.3h3V381.3h-3zM855.24 379.3h3V381.3h-3zM859.12 379.3h3V381.3h-3zM862.99 379.3h3V381.3h-3zM866.87 379.3h3V381.3h-3zM870.75 379.3h3V381.6h-3zM874.62 379.3h3V382.2h-3zM878.50 379.3h3V382.3h-3zM882.37 379.3h3V382.3h-3zM886.25 379.3h3V382.3h-3zM890.13 379.3h3V382.3h-3zM894.00 379.3h3V382.3h-3zM897.88 379.3h3V382.3h-3zM901.76 379.3h3V380.2h-3zM940.52 379.3h3V379.7h-3zM944.40 379.3h3V380.3h-3zM948.27 379.3h3V380.3h-3zM987.03 379.3h3V379.6h-3zM990.91 379.3h3V379.6h-3zM994.79 379.3h3V379.9h-3zM998.66 379.3h3V380.6h-3zM1002.54 379.3h3V380.7h-3zM1006.42 379.3h3V380.8h-3zM1010.29 379.3h3V380.9h-3zM1014.17 379.3h3V381.0h-3zM1018.05 379.3h3V381.0h-3zM1021.92 379.3h3V381.1h-3zM1025.80 379.3h3V381.0h-3zM1029.67 379.3h3V380.9h-3zM1033.55 379.3h3V380.9h-3zM1037.43 379.3h3V380.8h-3zM1041.30 379.3h3V380.7h-3zM1045.18 379.3h3V380.5h-3zM1049.06 379.3h3V380.4h-3zM1052.93 379.3h3V379.6h-3z" fill="#ff0000"/>
<path d="M0.0 382.8C5.0 382.8 20.0 382.7 30.0 382.5C40.0 382.3 48.3 382.0 60.0 381.7C71.7 381.4 90.8 381.1 100.0 380.8C109.2 380.5 109.7 380.7 115.0 380.0C120.3 379.3 125.8 377.8 131.6 376.7C137.4 375.6 144.4 373.9 150.0 373.7C155.6 373.5 159.7 374.8 165.0 375.3C170.3 375.9 176.3 376.4 181.6 377.0C186.9 377.6 191.9 378.5 196.6 378.7C201.3 378.9 199.4 378.4 210.0 378.3C220.6 378.2 248.6 378.2 260.0 378.0C271.4 377.8 273.2 377.5 278.2 377.0C283.2 376.5 286.4 376.1 290.0 375.0C293.6 373.9 296.4 371.4 300.0 370.3C303.6 369.2 307.7 368.8 311.6 368.3C315.5 367.8 319.7 367.6 323.3 367.5C326.9 367.4 329.1 367.5 333.3 368.0C337.5 368.5 343.9 369.6 348.3 370.3C352.8 371.0 355.8 371.8 360.0 372.0C364.2 372.2 367.2 371.4 373.3 371.3C379.4 371.2 391.1 371.1 396.6 371.3C402.2 371.5 402.2 371.9 406.6 372.5C411.0 373.1 417.6 374.2 423.2 375.0C428.8 375.8 434.4 376.6 440.0 377.5C445.6 378.4 451.0 379.7 456.5 380.3C462.0 380.9 468.2 381.0 473.2 381.3C478.2 381.6 481.6 381.7 486.6 382.2C491.6 382.7 496.4 383.8 503.3 384.2C510.2 384.6 521.3 384.3 528.3 384.7C535.2 385.1 539.5 385.9 545.0 386.3C550.5 386.7 556.1 387.1 561.6 387.0C567.1 386.9 572.6 386.6 578.2 385.8C583.8 385.1 589.5 383.6 595.0 382.5C600.5 381.4 606.0 380.1 611.5 379.2C617.0 378.3 622.6 377.7 628.2 377.2C633.8 376.7 640.7 376.4 644.9 376.2C649.1 376.0 650.4 375.5 653.2 375.8C656.0 376.1 658.1 376.9 661.7 378.0C665.3 379.1 670.6 381.2 675.0 382.5C679.4 383.8 684.1 385.1 688.3 385.8C692.5 386.6 695.8 386.9 700.0 387.0C704.2 387.1 708.9 387.0 713.3 386.6C717.7 386.2 722.2 385.5 726.6 384.7C731.0 383.9 735.5 383.0 739.9 381.7C744.3 380.4 748.8 378.3 753.2 376.7C757.7 375.1 761.6 373.3 766.6 372.0C771.6 370.7 777.7 369.7 783.2 368.7C788.8 367.7 795.5 366.3 799.9 365.8C804.3 365.3 805.7 365.2 809.9 365.5C814.1 365.8 819.5 366.9 824.9 367.5C830.2 368.1 837.5 368.6 842.0 369.2C846.5 369.8 846.7 370.7 851.6 371.3C856.5 371.9 865.5 372.2 871.6 373.0C877.7 373.8 883.6 375.4 888.3 376.3C893.0 377.2 896.3 378.4 899.9 378.7C903.5 379.0 906.0 378.3 909.9 378.0C913.8 377.7 917.2 376.8 923.3 376.7C929.4 376.6 940.5 377.4 946.6 377.5C952.7 377.6 955.5 377.6 959.9 377.5C964.3 377.4 968.2 376.9 973.2 376.7C978.2 376.5 984.6 376.2 989.9 376.3C995.2 376.4 999.5 376.5 1004.9 377.0C1010.2 377.5 1017.0 378.5 1022.0 379.2C1027.0 379.9 1029.9 380.7 1035.0 381.2C1040.1 381.8 1047.9 382.4 1052.5 382.5C1057.1 382.6 1060.8 381.9 1062.5 381.8" stroke="#ff7f27" stroke-width="1.05" fill="none"/>
<path d="M0.0 381.8C5.0 381.8 20.0 382.1 30.0 382.0C40.0 381.9 48.3 381.6 60.0 381.3C71.7 381.0 91.5 380.6 100.0 380.3C108.5 380.0 108.5 380.1 111.0 379.6C113.5 379.1 111.6 378.6 115.0 377.5C118.4 376.4 127.4 373.8 131.6 373.0C135.8 372.2 136.8 372.6 140.0 372.5C143.2 372.4 146.6 371.9 150.8 372.5C155.0 373.1 160.7 374.8 165.0 375.8C169.3 376.8 172.7 377.7 176.6 378.3C180.5 378.9 183.9 379.1 188.3 379.2C192.8 379.3 199.7 379.4 203.3 379.2C206.9 379.0 200.6 378.2 210.0 378.0C219.4 377.8 248.6 378.4 260.0 378.0C271.4 377.6 273.2 376.9 278.2 375.8C283.2 374.8 286.9 373.2 290.0 371.7C293.1 370.2 293.4 367.9 296.7 367.0C300.0 366.1 306.7 366.2 310.0 366.3C313.3 366.4 313.3 367.2 316.6 367.5C319.9 367.8 326.1 367.5 330.0 368.0C333.9 368.5 336.4 369.4 340.0 370.3C343.6 371.2 348.3 373.2 351.6 373.7C354.9 374.1 357.2 373.5 360.0 373.0C362.8 372.5 364.4 371.1 368.3 370.8C372.2 370.5 378.9 371.3 383.3 371.3C387.8 371.3 391.7 370.5 395.0 370.8C398.3 371.1 400.4 372.5 403.2 373.3C406.0 374.1 407.7 375.2 411.6 375.8C415.5 376.4 421.8 376.4 426.5 377.0C431.2 377.6 435.0 378.8 440.0 379.7C445.0 380.6 452.4 381.9 456.5 382.5C460.6 383.1 460.4 383.1 464.9 383.0C469.4 382.9 478.9 381.6 483.3 381.7C487.8 381.8 488.3 383.1 491.6 383.7C494.9 384.3 498.6 385.1 503.3 385.3C508.0 385.5 516.1 384.8 520.0 384.7C523.9 384.6 523.3 384.3 526.6 384.7C529.9 385.1 535.5 386.5 540.0 387.0C544.5 387.5 549.4 387.5 553.3 387.5C557.2 387.5 560.0 387.4 563.3 387.2C566.6 387.0 569.9 386.9 573.2 386.3C576.5 385.7 579.3 384.2 583.2 383.3C587.1 382.4 591.9 381.8 596.6 380.8C601.3 379.8 606.2 378.3 611.5 377.5C616.8 376.7 623.5 376.3 628.2 375.8C632.9 375.3 636.1 374.9 639.9 374.7C643.6 374.5 647.6 373.8 650.7 374.7C653.8 375.6 655.4 378.3 658.3 380.0C661.2 381.7 664.7 383.6 668.3 385.0C671.9 386.4 676.1 387.6 680.0 388.3C683.9 389.0 687.4 389.1 691.6 389.1C695.8 389.1 700.0 388.9 705.0 388.3C710.0 387.7 716.3 386.6 721.6 385.3C726.9 384.1 731.9 382.9 736.6 380.8C741.3 378.7 745.5 374.8 749.9 372.5C754.3 370.2 757.7 367.8 763.2 367.0C768.8 366.2 778.5 368.0 783.2 367.5C787.9 367.0 789.0 364.9 791.5 364.2C794.0 363.5 795.1 363.2 798.2 363.3C801.3 363.4 806.6 364.3 809.9 365.0C813.2 365.7 815.4 366.6 818.2 367.5C821.0 368.4 823.1 369.9 826.5 370.3C829.9 370.7 834.1 369.4 838.3 370.0C842.5 370.6 846.3 373.0 851.6 373.7C856.9 374.4 864.7 373.4 870.0 374.2C875.3 375.0 878.9 377.2 883.3 378.3C887.7 379.4 893.3 380.5 896.6 380.8C899.9 381.1 900.5 381.0 903.3 380.3C906.1 379.6 910.0 377.5 913.3 376.7C916.6 375.9 920.0 375.4 923.3 375.3C926.6 375.2 929.3 375.9 933.2 376.3C937.1 376.8 942.2 377.7 946.6 378.0C951.0 378.3 956.0 378.3 959.9 378.0C963.8 377.7 964.9 376.6 969.9 376.2C974.9 375.8 984.9 375.6 989.9 375.8C994.9 376.0 996.0 376.9 999.9 377.5C1003.8 378.1 1008.6 378.6 1013.2 379.2C1017.8 379.8 1023.0 380.5 1027.5 381.2C1032.0 382.0 1035.8 383.5 1040.0 383.8C1044.2 384.0 1048.8 382.8 1052.5 382.5C1056.2 382.2 1060.8 382.1 1062.5 382.0" stroke="#1f3cff" stroke-width="1.05" fill="none"/>
<rect x="5" y="5" width="78" height="22" fill="#595959" fill-opacity="0.9"/>
<rect x="5" y="5" width="3" height="22" fill="#2f8c76"/>
<text x="17" y="20.8" font-size="11" font-weight="bold" fill="#fff">ETH/USD</text>
<rect x="5" y="32" width="91" height="22" fill="#595959" fill-opacity="0.9"/>
<rect x="5" y="32" width="3" height="22" fill="#e8650a"/>
<text x="17" y="47.8" font-size="11" font-weight="bold" fill="#fff">SMA (100,0)</text>
<rect x="5" y="59" width="85" height="22" fill="#595959" fill-opacity="0.9"/>
<rect x="5" y="59" width="3" height="22" fill="#0d47a1"/>
<text x="17" y="74.8" font-size="11" font-weight="bold" fill="#fff">SMA (50,0)</text>
<rect x="5" y="367" width="110" height="22" fill="#595959" fill-opacity="0.9"/>
<rect x="5" y="367" width="3" height="22" fill="#0000ff"/>
<text x="17" y="382.8" font-size="11" font-weight="bold" fill="#fff">MACD (12,26,9)</text>
<path d="M524 356.5h20M524 358.5h20M524 360.5h20" stroke="#555" stroke-width="1" shape-rendering="crispEdges"/>
<text x="1077.5" y="41.8" font-size="11" fill="#4a4a4a">184.0000</text>
<text x="1077.5" y="75.2" font-size="11" fill="#4a4a4a">182.0000</text>
<text x="1077.5" y="108.7" font-size="11" fill="#4a4a4a">180.0000</text>
<text x="1077.5" y="142.1" font-size="11" fill="#4a4a4a">178.0000</text>
<text x="1077.5" y="175.5" font-size="11" fill="#4a4a4a">176.0000</text>
<text x="1077.5" y="208.9" font-size="11" fill="#4a4a4a">174.0000</text>
<text x="1077.5" y="242.4" font-size="11" fill="#4a4a4a">172.0000</text>
<text x="1077.5" y="275.8" font-size="11" fill="#4a4a4a">170.0000</text>
<text x="1077.5" y="309.2" font-size="11" fill="#4a4a4a">168.0000</text>
<text x="1077.5" y="342.7" font-size="11" fill="#4a4a4a">166.0000</text>
<text x="1077.5" y="383.4" font-size="11" fill="#4a4a4a">0.0000</text>
<path d="M1070 37.5h5M1070 70.5h5M1070 104.5h5M1070 137.5h5M1070 171.5h5M1070 204.5h5M1070 237.5h5M1070 271.5h5M1070 304.5h5M1070 338.5h5M1070 379.5h5M31.5 391v2M124.5 391v2M217.5 391v2M310.5 391v2M403.5 391v2M496.5 391v2M589.5 391v2M682.5 391v2M775.5 391v2M868.5 391v2M961.5 391v2M1054.5 391v2M0.5 391v2" stroke="#888" stroke-width="1" fill="none" shape-rendering="crispEdges"/>
<text x="31.6" y="407.3" font-size="11" fill="#4a4a4a" text-anchor="middle">31</text>
<text x="124.6" y="407.3" font-size="11" fill="#4a4a4a" text-anchor="middle">Sep</text>
<text x="217.6" y="407.3" font-size="11" fill="#4a4a4a" text-anchor="middle">2</text>
<text x="310.6" y="407.3" font-size="11" fill="#4a4a4a" text-anchor="middle">3</text>
<text x="403.6" y="407.3" font-size="11" fill="#4a4a4a" text-anchor="middle">4</text>
<text x="496.6" y="407.3" font-size="11" fill="#4a4a4a" text-anchor="middle">5</text>
<text x="589.6" y="407.3" font-size="11" fill="#4a4a4a" text-anchor="middle">6</text>
<text x="682.6" y="407.3" font-size="11" fill="#4a4a4a" text-anchor="middle">7</text>
<text x="775.6" y="407.3" font-size="11" fill="#4a4a4a" text-anchor="middle">8</text>
<text x="868.6" y="407.3" font-size="11" fill="#4a4a4a" text-anchor="middle">9</text>
<text x="961.6" y="407.3" font-size="11" fill="#4a4a4a" text-anchor="middle">10</text>
<text x="1054.6" y="407.3" font-size="11" fill="#4a4a4a" text-anchor="middle">11</text>
<text x="0.5" y="407.3" font-size="11" fill="#4a4a4a">Aug</text>
<path d="M1070 110.3L1072.8 102.8H1133.3V117.6H1072.8z" fill="#2d4a7a"/>
<text x="1078" y="114.5" font-size="11" font-weight="bold" fill="#fff">179.64186</text>
</svg>
</body></html>
